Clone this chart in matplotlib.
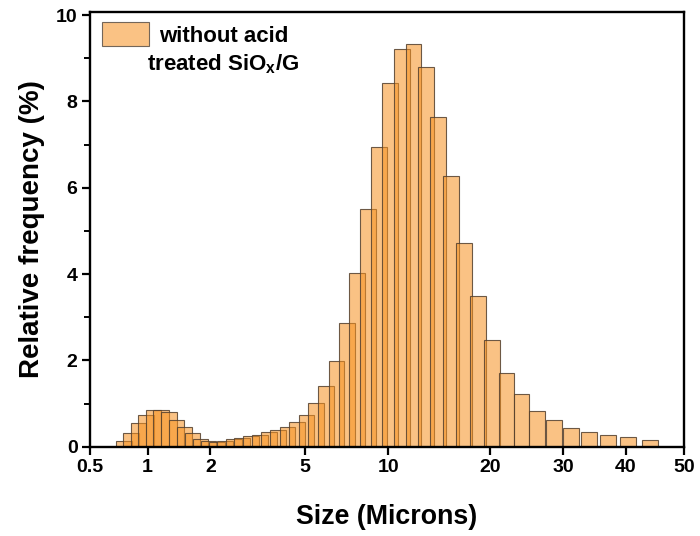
import matplotlib
matplotlib.use('Agg')
import numpy as np
import matplotlib.pyplot as plt
from matplotlib.patches import Rectangle
from matplotlib.ticker import FixedLocator, FixedFormatter, MultipleLocator, NullLocator
from statistics import NormalDist

# bin centres (microns) and relative frequency (%)
sizes = [0.758, 0.827, 0.901, 0.983, 1.071, 1.168, 1.274, 1.389, 1.514, 1.651,
         1.800, 1.962, 2.139, 2.333, 2.543, 2.773, 3.023, 3.296, 3.594, 3.919,
         4.273, 4.658, 5.079, 5.538, 6.038, 6.583, 7.178, 7.826, 8.533, 9.300,
         10.14, 11.06, 12.05, 13.14, 14.33, 15.62, 17.03, 18.57, 20.25, 22.08,
         24.07, 26.24, 28.61, 31.20, 34.02, 37.09, 40.44, 44.09]
freq = [0.14, 0.31, 0.56, 0.73, 0.85, 0.85, 0.80, 0.63, 0.46, 0.31,
        0.19, 0.14, 0.12, 0.14, 0.17, 0.20, 0.24, 0.28, 0.33, 0.38,
        0.46, 0.58, 0.73, 1.02, 1.41, 1.99, 2.87, 4.02, 5.50, 6.95,
        8.42, 9.21, 9.33, 8.80, 7.63, 6.28, 4.73, 3.49, 2.47, 1.71,
        1.21, 0.83, 0.62, 0.44, 0.33, 0.26, 0.22, 0.15]
size_ticks = [0.5, 1, 2, 5, 10, 20, 30, 40, 50]
size_labels = ['0.5', '1', '2', '5', '10', '20', '30', '40', '50']

plt.rcParams['font.family'] = ['Liberation Sans', 'DejaVu Sans']
plt.rcParams['font.weight'] = 'bold'
plt.rcParams['mathtext.fontset'] = 'custom'
plt.rcParams['mathtext.rm'] = 'Liberation Sans:bold'
plt.rcParams['mathtext.bf'] = 'Liberation Sans:bold'

_norm = NormalDist()


# probability (probit) axis: x in percent -> normal quantile
def prob_fwd(x):
    x = np.asarray(x, dtype=float)
    p = np.clip(x / 100.0, 1e-12, 1 - 1e-12)
    out = np.array([_norm.inv_cdf(v) if np.isfinite(v) else np.nan for v in p.ravel()])
    return out.reshape(p.shape)


def prob_inv(z):
    z = np.asarray(z, dtype=float)
    out = np.array([_norm.cdf(v) * 100 if np.isfinite(v) else np.nan for v in z.ravel()])
    return out.reshape(z.shape)


fig = plt.figure(figsize=(7, 5.36), dpi=100)
ax = fig.add_axes([0.1286, 0.1666, 0.8485, 0.8116])
ax.set_xscale('function', functions=(prob_fwd, prob_inv))

# constant bar width in probit units
bar_w = 0.068
zc = prob_fwd(sizes)
left = prob_inv(zc - bar_w / 2)
right = prob_inv(zc + bar_w / 2)

face = (0.97, 0.57, 0.12, 0.55)
edge = (0.33, 0.25, 0.18, 0.85)
ax.bar(left, freq, width=right - left, align='edge', bottom=0,
       facecolor=face, edgecolor=edge, linewidth=0.8)

ax.set_xlim(0.5, 50)
ax.set_ylim(0, 10.08)

ax.xaxis.set_major_locator(FixedLocator(size_ticks))
ax.xaxis.set_major_formatter(FixedFormatter(size_labels))
ax.xaxis.set_minor_locator(NullLocator())
ax.yaxis.set_major_locator(MultipleLocator(2))
ax.yaxis.set_minor_locator(MultipleLocator(1))

for s in ax.spines.values():
    s.set_linewidth(1.7)
ax.tick_params(which='major', direction='out', length=6, width=1.6,
               labelsize=14, pad=3, top=False, right=False)
ax.tick_params(which='minor', direction='out', length=4, width=1.4,
               top=False, right=False)

ax.set_xlabel('Size (Microns)', fontsize=19.3, fontweight='bold', labelpad=20)
ax.set_ylabel('Relative frequency (%)', fontsize=20, fontweight='bold', labelpad=8)

# legend box drawn by hand
ax.add_patch(Rectangle((0.0197, 0.9218), 0.0796, 0.0552, transform=ax.transAxes,
                       facecolor=face, edgecolor=(0.45, 0.4, 0.35), linewidth=0.8))
ax.text(0.2247, 0.931, 'without acid', transform=ax.transAxes,
        ha='center', va='baseline', fontsize=16, fontweight='bold')
ax.text(0.2247, 0.866, 'treated SiO$_\\mathregular{x}$/G', transform=ax.transAxes,
        ha='center', va='baseline', fontsize=16, fontweight='bold')

fig.savefig('out.png', dpi=100)
